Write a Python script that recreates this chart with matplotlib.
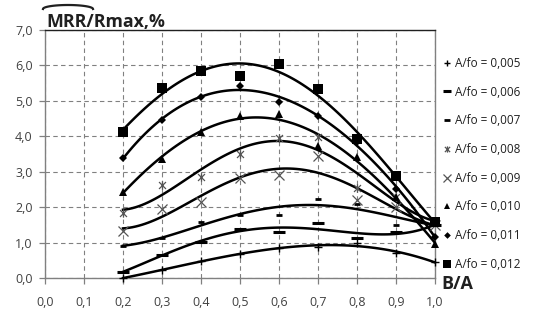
import numpy as np
import matplotlib
matplotlib.use('Agg')
import matplotlib.pyplot as plt
from matplotlib.path import Path
from matplotlib.ticker import FuncFormatter, MultipleLocator

# dati
ba = [0.2, 0.3, 0.4, 0.5, 0.6, 0.7, 0.8, 0.9, 1.0]
labels = ['A/fo = 0,005', 'A/fo = 0,006', 'A/fo = 0,007', 'A/fo = 0,008',
          'A/fo = 0,009', 'A/fo = 0,010', 'A/fo = 0,011', 'A/fo = 0,012']
s005 = [0.00, 0.22, 0.48, 0.68, 0.85, 0.87, 0.98, 0.70, 0.45]
s006 = [0.17, 0.65, 1.02, 1.38, 1.30, 1.55, 1.13, 1.30, 1.50]
s007 = [0.90, 1.13, 1.58, 1.78, 1.78, 2.23, 2.10, 1.50, 1.55]
s008 = [1.84, 2.63, 2.85, 3.50, 3.95, 3.98, 2.54, 2.30, 1.60]
s009 = [1.33, 1.95, 2.15, 2.82, 2.91, 3.45, 2.20, 2.00, 1.50]
s010 = [2.43, 3.36, 4.12, 4.58, 4.63, 3.73, 3.42, 2.30, 0.96]
s011 = [3.38, 4.46, 5.12, 5.42, 4.97, 4.58, 3.85, 2.50, 1.17]
s012 = [4.12, 5.36, 5.85, 5.70, 6.04, 5.33, 3.92, 2.89, 1.57]
series = [s005, s006, s007, s008, s009, s010, s011, s012]

# marker "asterisco" stile Excel (x con barra verticale)
star = Path([(-1, -1), (1, 1), (-1, 1), (1, -1), (0, -1.2), (0, 1.2)],
            [Path.MOVETO, Path.LINETO, Path.MOVETO, Path.LINETO, Path.MOVETO, Path.LINETO])
styles = [
    dict(marker='+', ms=6, mew=1.0, mec='black'),
    dict(marker='_', ms=8, mew=2.2, mec='black'),
    dict(marker='_', ms=5, mew=2.0, mec='black'),
    dict(marker=star, ms=6, mew=0.9, mec='#555555', mfc='none'),
    dict(marker='x', ms=7, mew=0.9, mec='#555555'),
    dict(marker='^', ms=6, mew=0, mfc='black'),
    dict(marker='D', ms=4.5, mew=0, mfc='black'),
    dict(marker='s', ms=7, mew=0, mfc='black'),
]

plt.rcParams['font.family'] = ['Open Sans', 'DejaVu Sans']

fig = plt.figure(figsize=(5.51, 3.2), dpi=100)
ax = fig.add_axes([45 / 551, 1 - 278 / 320, 390 / 551, 248 / 320])

# linee di tendenza polinomiali (come in Excel)
xs = np.linspace(0.2, 1.0, 100)
handles = []
for vals, st, lab in zip(series, styles, labels):
    coef = np.polyfit(ba, vals, 4)
    ax.plot(xs, np.polyval(coef, xs), color='black', lw=1.8, zorder=3)
    h, = ax.plot(ba, vals, ls='none', label=lab, zorder=4, clip_on=False, **st)
    handles.append(h)

ax.set_xlim(0, 1.0)
ax.set_ylim(0, 7.0)
ax.xaxis.set_major_locator(MultipleLocator(0.1))
ax.yaxis.set_major_locator(MultipleLocator(1.0))
fmt = FuncFormatter(lambda v, p: f'{v:.1f}'.replace('.', ','))
ax.xaxis.set_major_formatter(fmt)
ax.yaxis.set_major_formatter(fmt)
ax.grid(True, ls=(0, (4, 3)), color='#808080', lw=0.8)
ax.set_axisbelow(True)
for sp in ax.spines.values():
    sp.set_color('#808080')
    sp.set_linewidth(1.0)
ax.spines['top'].set_color('#202020')
ax.tick_params(axis='both', length=4, width=0.9, color='#808080',
               labelsize=9, labelcolor='#404040')
ax.tick_params(axis='x', pad=9)
ax.tick_params(axis='y', pad=5)

leg = ax.legend(handles=handles, loc='upper left', bbox_to_anchor=(436 / 551, 1 - 51 / 320),
                bbox_transform=fig.transFigure, frameon=False, fontsize=8.5,
                handlelength=0.8, handletextpad=0.3, labelspacing=1.33, borderpad=0,
                markerscale=0.75)
for t in leg.get_texts():
    t.set_color('#202020')

# titolo con arco sopra MRR
fig.text(46 / 551, 1 - 22 / 320, 'MRR/Rmax,%', fontsize=12.8, fontweight='bold',
         color='#202020', va='center', ha='left')
t = np.linspace(0, np.pi, 40)
hx = 68 / 551 + 25 / 551 * np.cos(t)
hy = 1 - 9 / 320 + 4 / 320 * np.sin(t)
fig.add_artist(plt.Line2D(hx, hy, color='#202020', lw=1.6, transform=fig.transFigure))

fig.text(441 / 551, 1 - 284 / 320, 'B/A', fontsize=13, fontweight='bold',
         color='#202020', va='center', ha='left')

fig.savefig('out.png', dpi=100)
